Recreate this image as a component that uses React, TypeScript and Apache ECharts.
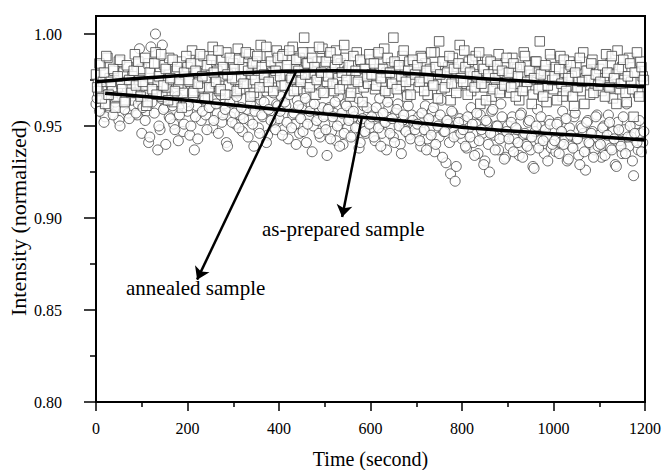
import React, { useEffect, useRef } from "react";
import * as echarts from "echarts";

// sampling step of the recorded data (seconds); the B arrays are the samples taken half a step later
const STEP = 5;
const OFFSET_B = 2.5;

// annealed sample (squares)
const annealed = [
  0.978, 0.969, 0.983, 0.974, 0.962, 0.987, 0.976, 0.971, 0.980, 0.966, 0.985, 0.973, 0.979, 0.964, 0.982, 0.970, 0.977, 0.989, 0.968, 0.975,
  0.981, 0.972, 0.961, 0.984, 0.976, 0.969, 0.990, 0.974, 0.979, 0.966, 0.983, 0.971, 0.987, 0.975, 0.963, 0.980, 0.973, 0.985, 0.968, 0.978,
  0.982, 0.974, 0.991, 0.969, 0.979, 0.985, 0.971, 0.988, 0.976, 0.966, 0.983, 0.993, 0.973, 0.980, 0.969, 0.986, 0.977, 0.990, 0.972, 0.981,
  0.984, 0.975, 0.992, 0.970, 0.982, 0.987, 0.973, 0.989, 0.978, 0.968, 0.985, 0.980, 0.994, 0.974, 0.983, 0.971, 0.988, 0.979, 0.976, 0.991,
  0.983, 0.972, 0.989, 0.978, 0.986, 0.975, 0.993, 0.981, 0.970, 0.987, 0.976, 0.998, 0.984, 0.973, 0.990, 0.979, 0.967, 0.985, 0.977, 0.992,
  0.982, 0.974, 0.988, 0.979, 0.969, 0.991, 0.976, 0.984, 0.972, 0.987, 0.980, 0.966, 0.983, 0.975, 0.990, 0.978, 0.985, 0.971, 0.981, 0.973,
  0.986, 0.977, 0.970, 0.989, 0.981, 0.974, 0.992, 0.979, 0.968, 0.984, 0.998, 0.976, 0.982, 0.972, 0.988, 0.980, 0.966, 0.985, 0.975, 0.983,
  0.979, 0.971, 0.988, 0.976, 0.984, 0.967, 0.981, 0.973, 0.990, 0.978, 0.996, 0.970, 0.985, 0.975, 0.982, 0.964, 0.987, 0.977, 0.972, 0.994,
  0.980, 0.991, 0.973, 0.985, 0.969, 0.978, 0.988, 0.975, 0.962, 0.983, 0.971, 0.986, 0.977, 0.966, 0.981, 0.974, 0.989, 0.970, 0.979, 0.984,
  0.976, 0.968, 0.987, 0.973, 0.981, 0.964, 0.978, 0.990, 0.971, 0.983, 0.975, 0.967, 0.985, 0.979, 0.996, 0.972, 0.980, 0.963, 0.977, 0.986,
  0.970, 0.982, 0.975, 0.988, 0.966, 0.979, 0.972, 0.985, 0.977, 0.961, 0.983, 0.974, 0.969, 0.990, 0.976, 0.980, 0.967, 0.986, 0.973, 0.978,
  0.981, 0.969, 0.976, 0.989, 0.972, 0.984, 0.965, 0.978, 0.991, 0.970, 0.982, 0.975, 0.963, 0.987, 0.974, 0.955, 0.979, 0.968, 0.985, 0.977,
];
const annealedB = [
  0.971, 0.984, 0.965, 0.979, 0.988, 0.967, 0.974, 0.981, 0.960, 0.977, 0.986, 0.970, 0.963, 0.983, 0.975, 0.968, 0.980, 0.972, 0.985, 0.966,
  0.974, 0.987, 0.963, 0.979, 0.970, 0.984, 0.967, 0.977, 0.989, 0.972, 0.981, 0.964, 0.976, 0.986, 0.969, 0.982, 0.975, 0.960, 0.979, 0.988,
  0.975, 0.984, 0.968, 0.980, 0.973, 0.989, 0.977, 0.965, 0.983, 0.971, 0.986, 0.979, 0.974, 0.991, 0.970, 0.982, 0.967, 0.978, 0.987, 0.976,
  0.981, 0.969, 0.986, 0.977, 0.973, 0.990, 0.980, 0.966, 0.984, 0.975, 0.988, 0.971, 0.982, 0.978, 0.993, 0.974, 0.985, 0.969, 0.980, 0.987,
  0.977, 0.988, 0.972, 0.983, 0.991, 0.976, 0.969, 0.986, 0.980, 0.974, 0.990, 0.978, 0.984, 0.971, 0.987, 0.982, 0.975, 0.993, 0.979, 0.968,
  0.985, 0.977, 0.990, 0.973, 0.982, 0.986, 0.970, 0.979, 0.994, 0.975, 0.983, 0.968, 0.988, 0.980, 0.974, 0.986, 0.963, 0.981, 0.977, 0.989,
  0.978, 0.984, 0.972, 0.990, 0.976, 0.981, 0.969, 0.987, 0.979, 0.973, 0.985, 0.970, 0.983, 0.977, 0.991, 0.974, 0.980, 0.967, 0.986, 0.978,
  0.983, 0.974, 0.987, 0.969, 0.980, 0.976, 0.990, 0.972, 0.982, 0.965, 0.978, 0.985, 0.971, 0.979, 0.988, 0.973, 0.981, 0.968, 0.984, 0.976,
  0.974, 0.982, 0.967, 0.979, 0.986, 0.971, 0.977, 0.990, 0.973, 0.981, 0.964, 0.978, 0.985, 0.970, 0.976, 0.983, 0.968, 0.980, 0.972, 0.987,
  0.979, 0.971, 0.984, 0.966, 0.977, 0.982, 0.969, 0.988, 0.974, 0.980, 0.962, 0.976, 0.985, 0.970, 0.978, 0.966, 0.983, 0.972, 0.989, 0.975,
  0.977, 0.964, 0.981, 0.973, 0.986, 0.969, 0.976, 0.983, 0.966, 0.979, 0.971, 0.987, 0.974, 0.962, 0.980, 0.975, 0.984, 0.968, 0.978, 0.972,
  0.974, 0.983, 0.966, 0.979, 0.971, 0.988, 0.976, 0.962, 0.981, 0.973, 0.986, 0.968, 0.977, 0.984, 0.970, 0.979, 0.990, 0.966, 0.982, 0.975,
];

// as-prepared sample (circles)
const asPrepared = [
  0.962, 0.974, 0.958, 0.969, 0.955, 0.971, 0.964, 0.977, 0.960, 0.966, 0.953, 0.972, 0.963, 0.968, 0.957, 0.975, 0.961, 0.970, 0.956, 0.992,
  0.946, 0.962, 0.958, 0.941, 0.993, 0.968, 1.000, 0.937, 0.948, 0.994, 0.960, 0.970, 0.955, 0.966, 0.951, 0.973, 0.942, 0.962, 0.947, 0.964,
  0.958, 0.945, 0.968, 0.937, 0.961, 0.972, 0.953, 0.966, 0.956, 0.970, 0.960, 0.949, 0.965, 0.957, 0.974, 0.952, 0.962, 0.941, 0.967, 0.955,
  0.963, 0.951, 0.968, 0.956, 0.947, 0.971, 0.959, 0.953, 0.966, 0.939, 0.961, 0.949, 0.964, 0.955, 0.969, 0.945, 0.958, 0.973, 0.952, 0.962,
  0.954, 0.966, 0.948, 0.961, 0.943, 0.970, 0.956, 0.951, 0.964, 0.946, 0.959, 0.968, 0.941, 0.955, 0.962, 0.950, 0.973, 0.957, 0.944, 0.960,
  0.951, 0.934, 0.960, 0.947, 0.957, 0.942, 0.966, 0.953, 0.940, 0.962, 0.949, 0.958, 0.945, 0.955, 0.968, 0.938, 0.952, 0.961, 0.946, 0.956,
  0.949, 0.958, 0.942, 0.955, 0.965, 0.946, 0.952, 0.937, 0.960, 0.950, 0.944, 0.957, 0.962, 0.940, 0.953, 0.948, 0.967, 0.945, 0.956, 0.951,
  0.946, 0.955, 0.939, 0.952, 0.961, 0.943, 0.949, 0.958, 0.936, 0.953, 0.944, 0.964, 0.947, 0.930, 0.951, 0.924, 0.957, 0.920, 0.945, 0.954,
  0.943, 0.953, 0.938, 0.949, 0.960, 0.941, 0.951, 0.935, 0.956, 0.946, 0.931, 0.952, 0.925, 0.958, 0.945, 0.950, 0.937, 0.962, 0.944, 0.933,
  0.950, 0.939, 0.955, 0.943, 0.948, 0.934, 0.957, 0.945, 0.940, 0.952, 0.937, 0.928, 0.947, 0.959, 0.942, 0.950, 0.935, 0.944, 0.953, 0.938,
  0.948, 0.936, 0.952, 0.941, 0.958, 0.944, 0.931, 0.949, 0.939, 0.955, 0.943, 0.934, 0.950, 0.946, 0.926, 0.953, 0.940, 0.947, 0.937, 0.956,
  0.945, 0.933, 0.950, 0.940, 0.956, 0.938, 0.947, 0.929, 0.952, 0.942, 0.935, 0.948, 0.962, 0.939, 0.944, 0.923, 0.951, 0.937, 0.946, 0.941,
];
const asPreparedB = [
  0.965, 0.958, 0.970, 0.952, 0.967, 0.961, 0.973, 0.956, 0.963, 0.969, 0.950, 0.966, 0.959, 0.975, 0.954, 0.964, 0.971, 0.957, 0.962, 0.968,
  0.960, 0.953, 0.967, 0.944, 0.963, 0.957, 0.971, 0.950, 0.965, 0.959, 0.940, 0.968, 0.954, 0.961, 0.948, 0.966, 0.956, 0.972, 0.951, 0.963,
  0.961, 0.950, 0.966, 0.955, 0.943, 0.969, 0.958, 0.964, 0.948, 0.960, 0.971, 0.953, 0.962, 0.946, 0.967, 0.956, 0.959, 0.939, 0.963, 0.952,
  0.957, 0.966, 0.949, 0.960, 0.954, 0.970, 0.944, 0.962, 0.951, 0.958, 0.967, 0.946, 0.956, 0.963, 0.941, 0.959, 0.953, 0.968, 0.948, 0.961,
  0.958, 0.945, 0.963, 0.952, 0.967, 0.949, 0.957, 0.940, 0.961, 0.954, 0.947, 0.965, 0.951, 0.958, 0.936, 0.962, 0.953, 0.946, 0.969, 0.955,
  0.948, 0.959, 0.943, 0.955, 0.963, 0.950, 0.939, 0.957, 0.946, 0.961, 0.953, 0.944, 0.958, 0.949, 0.965, 0.941, 0.954, 0.947, 0.960, 0.951,
  0.955, 0.944, 0.960, 0.949, 0.939, 0.957, 0.952, 0.963, 0.946, 0.954, 0.941, 0.959, 0.950, 0.935, 0.956, 0.947, 0.961, 0.943, 0.953, 0.948,
  0.951, 0.942, 0.957, 0.948, 0.937, 0.954, 0.945, 0.960, 0.940, 0.950, 0.956, 0.933, 0.947, 0.953, 0.941, 0.958, 0.944, 0.928, 0.952, 0.946,
  0.948, 0.939, 0.955, 0.944, 0.951, 0.934, 0.957, 0.942, 0.948, 0.929, 0.953, 0.940, 0.946, 0.959, 0.937, 0.950, 0.943, 0.955, 0.932, 0.947,
  0.943, 0.952, 0.936, 0.949, 0.941, 0.956, 0.933, 0.946, 0.939, 0.953, 0.944, 0.927, 0.950, 0.938, 0.955, 0.942, 0.948, 0.931, 0.951, 0.940,
  0.942, 0.951, 0.935, 0.947, 0.940, 0.954, 0.932, 0.945, 0.938, 0.957, 0.943, 0.929, 0.949, 0.936, 0.952, 0.941, 0.946, 0.933, 0.955, 0.939,
  0.940, 0.949, 0.934, 0.945, 0.952, 0.937, 0.943, 0.928, 0.948, 0.939, 0.955, 0.935, 0.944, 0.950, 0.931, 0.946, 0.941, 0.953, 0.936, 0.947,
];

// fitted trend lines
const annealedFitT = [0, 205, 415, 520, 625, 835, 1045, 1200];
const annealedFitV = [0.9741, 0.9777, 0.9797, 0.98, 0.9795, 0.976, 0.9728, 0.9714];
const preparedFitT = [20, 205, 415, 625, 835, 1045, 1200];
const preparedFitV = [0.9678, 0.9638, 0.9585, 0.9538, 0.9486, 0.9451, 0.9424];

// annotation arrows [tStart, vStart, tEnd, vEnd]
const arrowAnnealed = [439, 0.9804, 221, 0.8665];
const arrowPrepared = [581, 0.9543, 538, 0.9005];

const xTicks = [0, 200, 400, 600, 800, 1000, 1200];
const yTicks = [0.8, 0.85, 0.9, 0.95, 1.0];

const FONT = '"Liberation Serif", "Times New Roman", serif';

export default function App() {
  const ref = useRef<HTMLDivElement>(null);
  useEffect(() => {
    if (!ref.current) return;
    const chart = echarts.init(ref.current, null, { renderer: "svg" });
    const sq = [
      ...annealed.map((v, i) => [i * STEP, v]),
      ...annealedB.map((v, i) => [i * STEP + OFFSET_B, v]),
    ];
    const ci = [
      ...asPrepared.map((v, i) => [i * STEP, v]),
      ...asPreparedB.map((v, i) => [i * STEP + OFFSET_B, v]),
    ];
    const markerStyle = { color: "#fff", borderColor: "#444", borderWidth: 1 };
    chart.setOption({
      animation: false,
      backgroundColor: "#fff",
      grid: { left: 96, right: 21, top: 34, bottom: 68, show: false, outerBoundsMode: "none", containLabel: false },
      xAxis: {
        type: "value",
        min: xTicks[0],
        max: xTicks[xTicks.length - 1],
        interval: 200,
        name: "Time (second)",
        nameLocation: "middle",
        nameGap: 47,
        nameMoveOverlap: false,
        nameTextStyle: { fontFamily: FONT, fontSize: 20, color: "#000" },
        axisLine: { onZero: false, lineStyle: { color: "#000", width: 2 } },
        axisTick: { show: true, length: 9, lineStyle: { color: "#000", width: 1.5 } },
        minorTick: { show: true, splitNumber: 2, length: 5, lineStyle: { color: "#000", width: 1.5 } },
        splitLine: { show: false },
        axisLabel: { fontFamily: FONT, fontSize: 16, color: "#000", margin: 18, formatter: (v: number) => String(v) },
      },
      yAxis: {
        type: "value",
        min: yTicks[0],
        max: yTicks[yTicks.length - 1],
        interval: 0.05,
        name: "Intensity (normalized)",
        nameLocation: "middle",
        nameGap: 67,
        nameMoveOverlap: false,
        nameTextStyle: { fontFamily: FONT, fontSize: 22, color: "#000" },
        axisLine: { onZero: false, lineStyle: { color: "#000", width: 2 } },
        axisTick: { show: true, length: 12, lineStyle: { color: "#000", width: 1.5 } },
        minorTick: { show: true, splitNumber: 2, length: 6, lineStyle: { color: "#000", width: 1.5 } },
        splitLine: { show: false },
        axisLabel: {
          fontFamily: FONT,
          fontSize: 16,
          color: "#000",
          margin: 34,
          formatter: (v: number) => v.toFixed(2),
        },
      },
      graphic: [
        {
          type: "rect",
          shape: { x: 96, y: 16, width: 549, height: 386 },
          style: { fill: "none", stroke: "#000", lineWidth: 2 },
          z: 100,
          silent: true,
        },
        {
          type: "text",
          x: 262,
          y: 229,
          style: { text: "as-prepared sample", font: `21px ${FONT}`, fill: "#000", verticalAlign: "middle" },
          z: 100,
        },
        {
          type: "text",
          x: 126,
          y: 288,
          style: { text: "annealed sample", font: `21px ${FONT}`, fill: "#000", verticalAlign: "middle" },
          z: 100,
        },
      ],
      series: [
        {
          type: "scatter",
          data: ci,
          symbol: "circle",
          symbolSize: 10,
          itemStyle: markerStyle,
          clip: false,
          z: 2,
        },
        {
          type: "scatter",
          data: sq,
          symbol: "rect",
          symbolSize: 9.5,
          itemStyle: markerStyle,
          clip: false,
          z: 3,
        },
        {
          type: "line",
          data: annealedFitT.map((t, i) => [t, annealedFitV[i]]),
          showSymbol: false,
          smooth: 0.3,
          lineStyle: { color: "#000", width: 3.5 },
          z: 4,
        },
        {
          type: "line",
          data: preparedFitT.map((t, i) => [t, preparedFitV[i]]),
          showSymbol: false,
          smooth: 0.3,
          lineStyle: { color: "#000", width: 3.5 },
          z: 4,
        },
        {
          type: "lines",
          coordinateSystem: "cartesian2d",
          symbol: ["none", "arrow"],
          symbolSize: [8, 12],
          lineStyle: { color: "#000", width: 2.5, opacity: 1 },
          data: [
            { coords: [[arrowAnnealed[0], arrowAnnealed[1]], [arrowAnnealed[2], arrowAnnealed[3]]] },
            { coords: [[arrowPrepared[0], arrowPrepared[1]], [arrowPrepared[2], arrowPrepared[3]]] },
          ],
          z: 5,
        },
      ],
    });
    return () => chart.dispose();
  }, []);
  return (
    <div
      ref={ref}
      style={{ position: "absolute", left: 0, top: 0, width: 666, height: 470, overflow: "hidden" }}
    />
  );
}
